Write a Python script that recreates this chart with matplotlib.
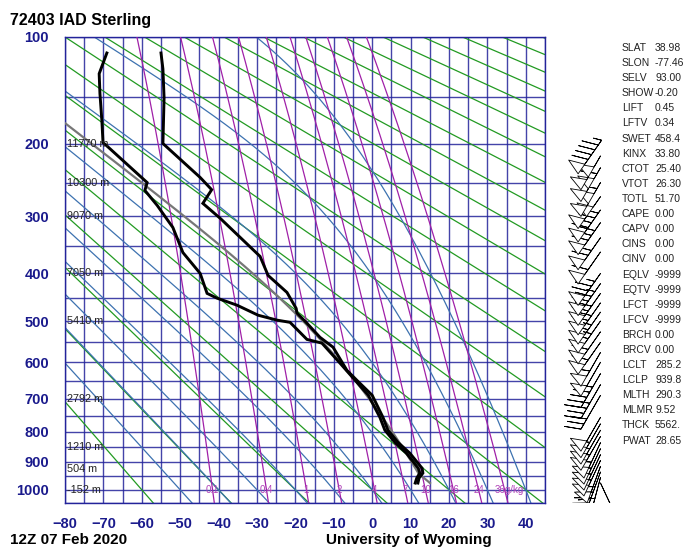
import numpy as np
import matplotlib
matplotlib.use('Agg')
import matplotlib.pyplot as plt

plt.rcParams['font.family'] = ['Liberation Sans', 'DejaVu Sans']

KAPPA = 0.286

# ---------------- data ----------------
temp_p = [112, 125, 151, 200, 243, 260, 280, 303, 368, 404, 438, 472, 482, 505,
          538, 562, 621, 648, 690, 755, 795, 834, 870, 922, 939, 957, 975]
temp_t = [-55.0, -54.5, -54.2, -54.5, -44.8, -41.8, -44.1, -39.6, -29.2, -27.1,
          -22.2, -19.8, -19.6, -17.0, -13.6, -10.2, -6.6, -4.0, 0.0, 2.8, 4.1,
          6.7, 9.8, 13.0, 13.2, 12.2, 11.9]
dwpt_p = [112, 129, 147, 174, 199, 202, 250, 261, 283, 318, 361, 400, 440, 450,
          465, 487, 498, 503, 543, 552, 600, 690, 755, 795, 834, 870, 922, 939,
          957, 975]
dwpt_t = [-69.1, -71.1, -70.9, -70.4, -70.1, -69.3, -58.6, -59.2, -56.0, -51.9,
          -49.3, -44.8, -43.0, -40.4, -35.2, -29.7, -24.8, -21.4, -17.0, -13.1,
          -8.6, -1.0, 2.0, 3.3, 5.9, 8.9, 12.0, 12.4, 11.6, 11.2]

height_p = [200, 250, 300, 400, 500, 700, 850, 925, 1000]
height_lbl = ['11770 m', '10300 m', '9070 m', '7050 m', '5410 m', '2792 m',
              '1210 m', '504 m', '-152 m']

pres_ticks = [100, 200, 300, 400, 500, 600, 700, 800, 900, 1000]
temp_ticks = [-80, -70, -60, -50, -40, -30, -20, -10, 0, 10, 20, 30, 40]

mr_values = [0.1, 0.4, 1, 2, 4, 7, 10, 16, 24, 36]
mr_labels = ['0.1', '0.4', '1', '2', '4', '7', '10', '16', '24', '36']

dry_theta_c = [-60, -40, -20, 0, 20, 40, 60, 80, 100, 120, 140, 160, 180, 200,
               220, 240, 260, 280, 300, 320, 340]
moist_thetaw_c = [-50, -40, -30, -20, -10, 0, 10, 20, 30, 40]

parcel_theta = 290.3
parcel_lclp = 939.8
parcel_surfp = 975

index_names = ['SLAT', 'SLON', 'SELV', 'SHOW', 'LIFT', 'LFTV', 'SWET', 'KINX',
               'CTOT', 'VTOT', 'TOTL', 'CAPE', 'CAPV', 'CINS', 'CINV', 'EQLV',
               'EQTV', 'LFCT', 'LFCV', 'BRCH', 'BRCV', 'LCLT', 'LCLP', 'MLTH',
               'MLMR', 'THCK', 'PWAT']
index_values = ['38.98', '-77.46', '93.00', '-0.20', '0.45', '0.34', '458.4',
                '33.80', '25.40', '26.30', '51.70', '0.00', '0.00', '0.00',
                '0.00', '-9999', '-9999', '-9999', '-9999', '0.00', '0.00',
                '285.2', '939.8', '290.3', '9.52', '5562.', '28.65']

wind_p = [975, 955, 935, 915, 895, 875, 855, 835, 815, 795, 775, 755,
          690, 660, 630, 600, 575, 550, 525, 500, 480, 460, 440, 420, 400,
          360, 335, 310, 290, 270, 250, 230, 215, 198]
wind_dir = [155, 195, 200, 200, 205, 205, 205, 205, 210, 210, 210, 210,
            210, 210, 210, 210, 210, 215, 215, 215, 215, 215, 215, 215, 215,
            215, 215, 215, 215, 215, 210, 210, 210, 215]
wind_spd = [10, 40, 45, 50, 55, 60, 60, 60, 60, 55, 55, 50,
            30, 35, 45, 50, 55, 60, 60, 65, 65, 70, 70, 75, 75,
            60, 65, 80, 90, 100, 105, 110, 100, 95]

# ---------------- thermodynamic helpers ----------------
def es(tc):
    return 6.112 * np.exp(17.67 * tc / (tc + 243.5))


def td_from_w(w_gkg, p):
    w = w_gkg / 1000.0
    e = w * p / (0.622 + w)
    l = np.log(e / 6.112)
    return 243.5 * l / (17.67 - l)


def moist_rate(T, p):
    tc = T - 273.15
    e = es(tc)
    rs = 0.622 * e / (p - e)
    Lv, Rd, cp = 2.501e6, 287.04, 1005.7
    return (Rd * T + Lv * rs) / (p * (cp + Lv * Lv * rs * 0.622 / (Rd * T * T)))


def moist_path(t0c, p0, p1, n=300):
    ps = np.linspace(p0, p1, n)
    T = t0c + 273.15
    out = [T]
    for i in range(1, n):
        dp = ps[i] - ps[i - 1]
        k1 = moist_rate(T, ps[i - 1])
        k2 = moist_rate(T + k1 * dp / 2, ps[i - 1] + dp / 2)
        T = T + k2 * dp
        out.append(T)
    return ps, np.array(out) - 273.15


# ---------------- figure ----------------
W, H = 686, 548
fig = plt.figure(figsize=(W / 100, H / 100), dpi=100)
L, R, TOP, BOT = 65, 545, 37, 503
ax = fig.add_axes([L / W, 1 - BOT / H, (R - L) / W, (BOT - TOP) / H])

fwd = lambda p: np.power(np.clip(p, 1e-6, None), KAPPA)
inv = lambda y: np.power(np.clip(y, 1e-6, None), 1 / KAPPA)
ax.set_yscale('function', functions=(fwd, inv))
ax.set_xlim(-80, 45)
ax.set_ylim(1050, 100)

navy = '#23239a'
for t in np.arange(-80, 46, 5):
    ax.axvline(t, color=navy, lw=1.0, alpha=0.85, zorder=1)
for p in np.arange(100, 1051, 50):
    ax.axhline(p, color=navy, lw=1.0, alpha=0.85, zorder=1)

pp = np.linspace(100, 1050, 200)
for th in dry_theta_c:
    tt = (th + 273.15) * (pp / 1000.0) ** KAPPA - 273.15
    ax.plot(tt, pp, color='#229a22', lw=0.9, zorder=2)

for tw in moist_thetaw_c:
    ps_up, t_up = moist_path(tw, 1000, 100)
    ps_dn, t_dn = moist_path(tw, 1000, 1050, n=30)
    ax.plot(np.r_[t_dn[::-1], t_up], np.r_[ps_dn[::-1], ps_up],
            color='#3d72b0', lw=0.9, zorder=2)

for w, lab in zip(mr_values, mr_labels):
    tdl = td_from_w(w, pp)
    ax.plot(tdl, pp, color='#a020a8', lw=0.9, zorder=3)
    x0 = td_from_w(w, 1000.0)
    if lab == '36':
        ax.text(x0 - 2.5, 1000, '36g/kg', ha='left', va='center', fontsize=7,
                color='#b040b8', zorder=4)
    else:
        ax.text(x0, 1000, lab, ha='center', va='center', fontsize=7,
                color='#b040b8', zorder=4)

# parcel
pd_ = np.linspace(parcel_surfp, parcel_lclp, 10)
td_ = parcel_theta * (pd_ / 1000.0) ** KAPPA - 273.15
pm, tm = moist_path(td_[-1], parcel_lclp, 100)
ax.plot(np.r_[td_, tm], np.r_[pd_, pm], color='#777777', lw=1.6, zorder=5)

ax.plot(dwpt_t, dwpt_p, color='black', lw=2.1, zorder=6, solid_joinstyle='miter')
ax.plot(temp_t, temp_p, color='black', lw=2.1, zorder=6, solid_joinstyle='miter')

for p, lab in zip(height_p, height_lbl):
    ax.text(-79.6, p, lab, ha='left', va='center', fontsize=7.8, color='#222222',
            zorder=7)

ax.set_yticks(pres_ticks)
ax.set_yticklabels([str(p) for p in pres_ticks])
ax.yaxis.set_minor_locator(matplotlib.ticker.NullLocator())
ax.set_xticks(temp_ticks)
ax.set_xticklabels([str(t).replace('-', '\u2212') for t in temp_ticks])
ax.tick_params(axis='both', length=0, colors='#1a1a8c', labelsize=10.5)
ax.tick_params(axis='y', pad=11.5)
ax.tick_params(axis='x', pad=10)
for lab in ax.get_xticklabels() + ax.get_yticklabels():
    lab.set_fontweight('bold')
    lab.set_color('#1a1a8c')
for s in ax.spines.values():
    s.set_color(navy)
    s.set_linewidth(1.0)

# wind barbs
bax = fig.add_axes([560 / W, 1 - BOT / H, 60 / W, (BOT - TOP) / H])
bax.set_yscale('function', functions=(fwd, inv))
bax.set_ylim(1050, 100)
bax.set_xlim(-1, 1)
bax.axis('off')
wd = np.deg2rad(np.array(wind_dir, float))
ws = np.array(wind_spd, float)
u = -ws * np.sin(wd)
v = -ws * np.cos(wd)
bax.barbs(np.full(len(wind_p), 0.35), wind_p, u, v, length=7.5, linewidth=0.6,
          barbcolor='black', flagcolor='white',
          sizes=dict(emptybarb=0.0, spacing=0.15, height=0.4, width=0.3))

# index table
for i, (n, v_) in enumerate(zip(index_names, index_values)):
    y = 1 - (48 + i * 15.1) / H
    fig.text(622 / W, y, n, fontsize=7.5, color='#222222', va='center')
    fig.text(655 / W, y, v_, fontsize=7.5, color='#222222', va='center')

fig.text(10 / W, 1 - 20 / H, '72403 IAD Sterling', fontsize=11.5,
         fontweight='bold', va='center')
fig.text(10 / W, 1 - 540 / H, '12Z 07 Feb 2020', fontsize=11,
         fontweight='bold', va='center')
fig.text(409 / W, 1 - 540 / H, 'University of Wyoming', fontsize=11,
         fontweight='bold', va='center', ha='center')

fig.savefig('out.png', dpi=100)
